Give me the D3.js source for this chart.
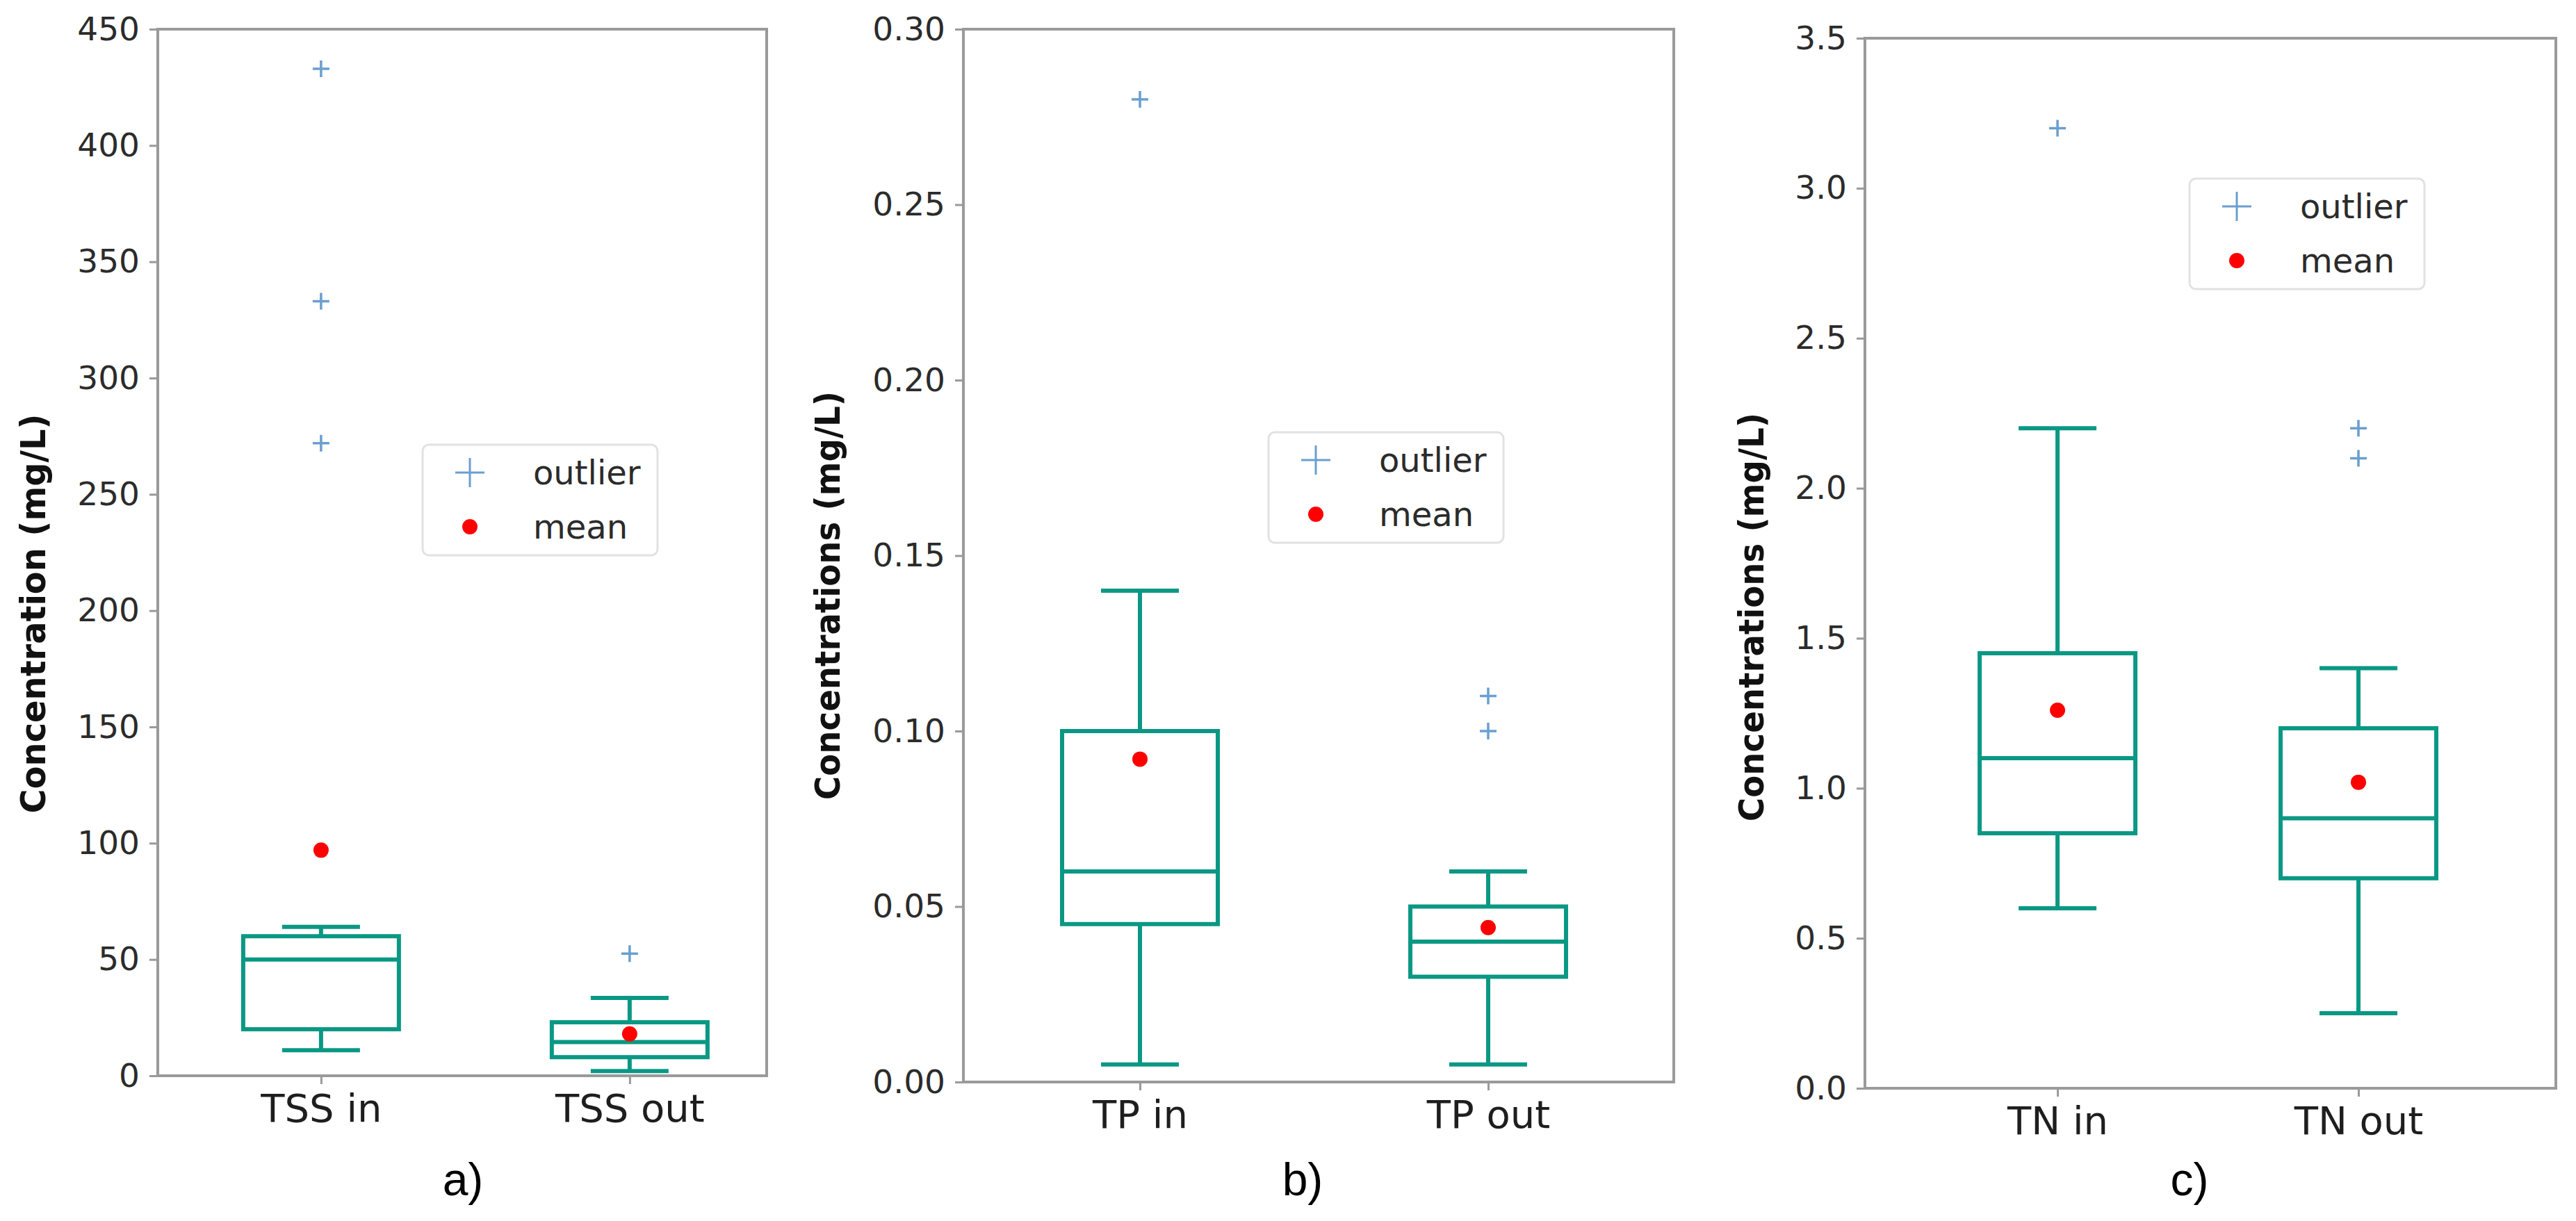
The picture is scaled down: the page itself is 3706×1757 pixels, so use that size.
<!DOCTYPE html>
<html>
<head>
<meta charset="utf-8">
<script src="https://cdn.jsdelivr.net/npm/d3@7"></script>
<style>
  html, body { margin: 0; padding: 0; background: #ffffff; }
  svg { display: block; }
</style>
</head>
<body>
<svg id="chart" width="3706" height="1757"></svg>
<script>
// ---------------- DATA ----------------
const panelLetters = ["a)", "b)", "c)"];
const yTitles = ["Concentration (mg/L)", "Concentrations (mg/L)", "Concentrations (mg/L)"];
const legendLabels = ["outlier", "mean"];

const tssCategories = ["TSS in", "TSS out"];
const tssWhiskerLow = [11, 2];
const tssQ1 = [20, 8];
const tssMedian = [50, 14.5];
const tssQ3 = [60, 23];
const tssWhiskerHigh = [64, 33.5];
const tssMean = [97, 18];
const tssOutliers = [[433, 333, 272], [52.5]];
const tssTicks = [0, 50, 100, 150, 200, 250, 300, 350, 400, 450];

const tpCategories = ["TP in", "TP out"];
const tpWhiskerLow = [0.005, 0.005];
const tpQ1 = [0.045, 0.03];
const tpMedian = [0.06, 0.04];
const tpQ3 = [0.10, 0.05];
const tpWhiskerHigh = [0.14, 0.06];
const tpMean = [0.092, 0.044];
const tpOutliers = [[0.28], [0.11, 0.10]];
const tpTicks = [0, 0.05, 0.10, 0.15, 0.20, 0.25, 0.30];

const tnCategories = ["TN in", "TN out"];
const tnWhiskerLow = [0.6, 0.25];
const tnQ1 = [0.85, 0.7];
const tnMedian = [1.1, 0.9];
const tnQ3 = [1.45, 1.2];
const tnWhiskerHigh = [2.2, 1.4];
const tnMean = [1.26, 1.02];
const tnOutliers = [[3.2], [2.2, 2.1]];
const tnTicks = [0, 0.5, 1.0, 1.5, 2.0, 2.5, 3.0, 3.5];

// ---------------- LAYOUT / STYLE ----------------
const BOX_COLOR = "#0a9884";
const OUT_COLOR = "#6a9fcf";
const MEAN_COLOR = "#ff0000";
const SPINE_COLOR = "#9a9a9a";
const TEXT_COLOR = "#2b2b2b";

const panels = [
  { left: 227, right: 1103, top: 42, bottom: 1548, xDom: [0.471, 2.444], yMax: 450, fmt: d3.format("d"),
    cats: tssCategories, lo: tssWhiskerLow, q1: tssQ1, med: tssMedian, q3: tssQ3, hi: tssWhiskerHigh,
    mean: tssMean, outs: tssOutliers, ticks: tssTicks,
    titleX: 48, titleY: 883, titleLen: 575,
    legend: { x: 608, y: 640 }, letterX: 666 },
  { left: 1386, right: 2408, top: 42, bottom: 1557, xDom: [0.493, 2.533], yMax: 0.30, fmt: d3.format(".2f"),
    cats: tpCategories, lo: tpWhiskerLow, q1: tpQ1, med: tpMedian, q3: tpQ3, hi: tpWhiskerHigh,
    mean: tpMean, outs: tpOutliers, ticks: tpTicks,
    titleX: 1191, titleY: 857, titleLen: 588,
    legend: { x: 1825, y: 622 }, letterX: 1874 },
  { left: 2683, right: 3677, top: 55, bottom: 1566, xDom: [0.36, 2.656], yMax: 3.5, fmt: d3.format(".1f"),
    cats: tnCategories, lo: tnWhiskerLow, q1: tnQ1, med: tnMedian, q3: tnQ3, hi: tnWhiskerHigh,
    mean: tnMean, outs: tnOutliers, ticks: tnTicks,
    titleX: 2520, titleY: 888, titleLen: 588,
    legend: { x: 3150, y: 257 }, letterX: 3150 }
];

const BOX_W = 0.5;   // in category units (scaled below per panel)
const svg = d3.select("#chart");

panels.forEach((p, i) => {
  const g = svg.append("g");
  const x = d3.scaleLinear().domain(p.xDom).range([p.left, p.right]);
  const y = d3.scaleLinear().domain([0, p.yMax]).range([p.bottom, p.top]);
  const unit = x(2) - x(1);
  const boxHalf = 112;           // px half width of the box
  const capHalf = boxHalf / 2;

  // Y axis
  const yAxis = d3.axisLeft(y).tickValues(p.ticks).tickFormat(p.fmt).tickSize(12).tickPadding(14);
  const ya = g.append("g").attr("transform", `translate(${p.left},0)`).call(yAxis);
  ya.select(".domain").remove();
  ya.selectAll(".tick line").attr("stroke", SPINE_COLOR).attr("stroke-width", 3);
  ya.selectAll(".tick text").attr("fill", TEXT_COLOR)
    .style("font-family", "'DejaVu Sans', sans-serif").style("font-size", "47px");

  // X axis
  const xAxis = d3.axisBottom(x).tickValues([1, 2]).tickFormat((d) => p.cats[d - 1]).tickSize(12).tickPadding(14);
  const xa = g.append("g").attr("transform", `translate(0,${p.bottom})`).call(xAxis);
  xa.select(".domain").remove();
  xa.selectAll(".tick line").attr("stroke", SPINE_COLOR).attr("stroke-width", 3);
  xa.selectAll(".tick text").attr("fill", "#1e1e1e")
    .style("font-family", "'DejaVu Sans', sans-serif").style("font-size", "56px");

  // Box plots
  const idx = d3.range(p.cats.length);
  const bx = g.append("g").attr("fill", "none").attr("stroke", BOX_COLOR).attr("stroke-width", 6);
  idx.forEach((k) => {
    const cx = x(k + 1);
    // whiskers
    bx.append("line").attr("x1", cx).attr("x2", cx).attr("y1", y(p.q3[k])).attr("y2", y(p.hi[k]));
    bx.append("line").attr("x1", cx).attr("x2", cx).attr("y1", y(p.q1[k])).attr("y2", y(p.lo[k]));
    // caps
    bx.append("line").attr("x1", cx - capHalf).attr("x2", cx + capHalf).attr("y1", y(p.hi[k])).attr("y2", y(p.hi[k]));
    bx.append("line").attr("x1", cx - capHalf).attr("x2", cx + capHalf).attr("y1", y(p.lo[k])).attr("y2", y(p.lo[k]));
    // box
    bx.append("rect").attr("x", cx - boxHalf).attr("width", boxHalf * 2)
      .attr("y", y(p.q3[k])).attr("height", y(p.q1[k]) - y(p.q3[k]));
    // median
    bx.append("line").attr("x1", cx - boxHalf).attr("x2", cx + boxHalf).attr("y1", y(p.med[k])).attr("y2", y(p.med[k]));
  });

  // outliers
  const outG = g.append("g").attr("stroke", OUT_COLOR).attr("stroke-width", 3.5);
  idx.forEach((k) => {
    p.outs[k].forEach((v) => {
      const cx = x(k + 1), cy = y(v), s = 12;
      outG.append("path").attr("d", `M${cx - s},${cy}H${cx + s}M${cx},${cy - s}V${cy + s}`);
    });
  });

  // means
  g.append("g").selectAll("circle").data(idx).join("circle")
    .attr("cx", (k) => x(k + 1)).attr("cy", (k) => y(p.mean[k])).attr("r", 11)
    .attr("fill", MEAN_COLOR);

  // spines
  g.append("rect").attr("x", p.left).attr("y", p.top)
    .attr("width", p.right - p.left).attr("height", p.bottom - p.top)
    .attr("fill", "none").attr("stroke", SPINE_COLOR).attr("stroke-width", 4);

  // legend
  const L = p.legend;
  const lg = g.append("g").attr("transform", `translate(${L.x},${L.y})`);
  lg.append("rect").attr("width", 338).attr("height", 159).attr("rx", 9)
    .attr("fill", "#ffffff").attr("stroke", "#e2e2e2").attr("stroke-width", 3);
  const ls = 21;
  lg.append("path").attr("d", `M${68 - ls},40H${68 + ls}M68,${40 - ls}V${40 + ls}`)
    .attr("stroke", OUT_COLOR).attr("stroke-width", 3);
  lg.append("circle").attr("cx", 68).attr("cy", 118).attr("r", 11).attr("fill", MEAN_COLOR);
  lg.selectAll("text").data(legendLabels).join("text")
    .attr("x", 159).attr("y", (d, j) => 40 + j * 78 + 17)
    .attr("fill", TEXT_COLOR)
    .style("font-family", "'DejaVu Sans', sans-serif").style("font-size", "48px")
    .text((d) => d);

  // y title
  g.append("text")
    .attr("transform", `translate(${p.titleX},${p.titleY}) rotate(-90)`)
    .attr("text-anchor", "middle").attr("dominant-baseline", "central")
    .attr("textLength", p.titleLen).attr("lengthAdjust", "spacingAndGlyphs")
    .attr("fill", "#111")
    .style("font-family", "'Liberation Sans Narrow', 'DejaVu Sans Condensed', sans-serif")
    .style("font-weight", "bold").style("font-size", "50px")
    .text(yTitles[i]);

  // panel letter
  g.append("text").attr("x", p.letterX).attr("y", 1720).attr("text-anchor", "middle")
    .attr("fill", "#000")
    .style("font-family", "'Liberation Sans', Arial, sans-serif").style("font-size", "66px")
    .text(panelLetters[i]);
});
</script>
</body>
</html>
